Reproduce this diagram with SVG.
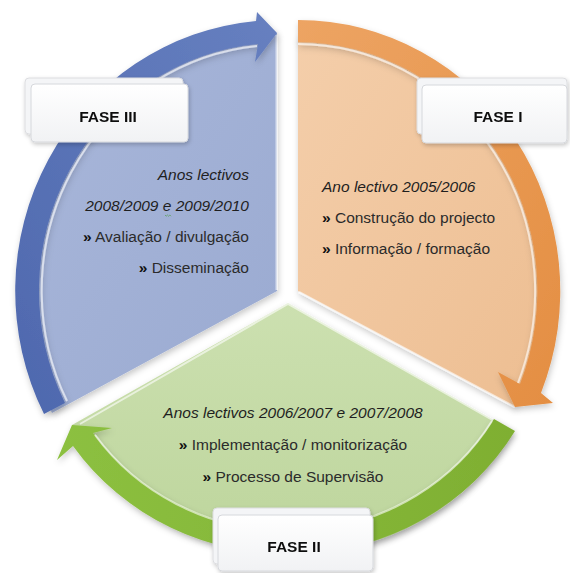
<svg xmlns="http://www.w3.org/2000/svg" width="570" height="573" viewBox="0 0 570 573">
<defs>
  <linearGradient id="gOrangeFill" x1="0" y1="0" x2="1" y2="1">
    <stop offset="0" stop-color="#F4CEAA"/><stop offset="1" stop-color="#EDBE92"/>
  </linearGradient>
  <linearGradient id="gBlueFill" x1="0" y1="0" x2="1" y2="1">
    <stop offset="0" stop-color="#A9B7DA"/><stop offset="1" stop-color="#9AAAD1"/>
  </linearGradient>
  <linearGradient id="gGreenFill" x1="0" y1="0" x2="0" y2="1">
    <stop offset="0" stop-color="#CCE0B0"/><stop offset="1" stop-color="#BDD59C"/>
  </linearGradient>
  <linearGradient id="gOrangeBand" x1="0" y1="0" x2="1" y2="1">
    <stop offset="0" stop-color="#EDA463"/><stop offset="1" stop-color="#E48E42"/>
  </linearGradient>
  <linearGradient id="gBlueBand" x1="0" y1="1" x2="1" y2="0">
    <stop offset="0" stop-color="#4E68AE"/><stop offset="1" stop-color="#6780C0"/>
  </linearGradient>
  <linearGradient id="gGreenBand" x1="0" y1="0" x2="1" y2="0">
    <stop offset="0" stop-color="#8CC040"/><stop offset="1" stop-color="#7FAF32"/>
  </linearGradient>
  <linearGradient id="gBox" x1="0" y1="0" x2="0" y2="1">
    <stop offset="0" stop-color="#FFFFFF"/><stop offset="1" stop-color="#F1F2F4"/>
  </linearGradient>
  <filter id="shadow" x="-10%" y="-10%" width="120%" height="120%">
    <feDropShadow dx="1" dy="3" stdDeviation="3" flood-color="#000" flood-opacity="0.22"/>
  </filter>
  <filter id="boxShadow" x="-10%" y="-20%" width="120%" height="150%">
    <feDropShadow dx="1" dy="2" stdDeviation="2" flood-color="#000" flood-opacity="0.22"/>
  </filter>
  <style>
    .body { font-family: "Liberation Sans", Arial, sans-serif; font-size: 15.5px; fill: #2b2b2b; }
    .it { font-style: italic; fill: #1f1f1f; }
    .raq { font-weight: bold; fill: #111; }
    .label { font-family: "Liberation Sans", Arial, sans-serif; font-size: 15.5px; font-weight: bold; fill: #111; text-anchor: middle; }
    .box { fill: url(#gBox); stroke: #D6D8DC; stroke-width: 1; }
    .boxBack { fill: #F4F5F7; stroke: #DCDDE0; stroke-width: 1; }
    .hl { fill: none; stroke: #FFFFFF; stroke-opacity: 0.6; stroke-width: 2; }
  </style>
</defs>
<rect width="570" height="573" fill="#FFFFFF"/>

<!-- Sector fills and texts -->
<g id="fase-i" filter="url(#shadow)">
  <path d="M298,291 L298,36 A250 257 0 0 1 521,386 L515,407 Z" fill="url(#gOrangeFill)"/>
  <path class="hl" d="M299,292 L515,407" stroke-width="2.5" stroke-opacity="0.8"/>
</g>
<g id="fase-iii" filter="url(#shadow)">
  <path d="M277,291 L52,413 A252 260 0 0 1 262,32 L277,33 Z" fill="url(#gBlueFill)"/>
  <path class="hl" d="M276.5,35 L276.5,290" stroke-opacity="0.8"/>
</g>
<g id="fase-ii" filter="url(#shadow)">
  <path d="M288,303 L513,431 A250 238 0 0 1 72,425 Z" fill="url(#gGreenFill)"/>
  <path class="hl" d="M80,424 L288,304 L510,430" stroke-opacity="0.5"/>
</g>

<!-- Connectors: cycle arrows -->
<g id="connectors" filter="url(#shadow)">
  <path d="M298,20 A262 271 0 0 1 541,393 L553,403 L515,407 L498,372 L520,384 A240 249 0 0 0 298,42 Z" fill="url(#gOrangeBand)"/>
  <path class="hl" d="M298,44 A238 247 0 0 1 518,383" stroke="#FFF6E0" stroke-opacity="0.8"/>
  <path d="M44,414 A264 271 0 0 1 256,21 L257,12 L277,33 L255,62 L258,44 A241 248 0 0 0 65,403 Z" fill="url(#gBlueBand)"/>
  <path class="hl" d="M67,401 A239 246 0 0 1 257,46" stroke-opacity="0.5"/>
  <path d="M515,431 A262 250 0 0 1 73,446 L57,460 L72,425 L112,428 L93,433 A238 226 0 0 0 494,419 Z" fill="url(#gGreenBand)"/>
  <path class="hl" d="M492,421 A236 224 0 0 1 95,435" stroke-opacity="0.55"/>
</g>

<!-- Texts -->
<g id="fase-iii-text" class="body" text-anchor="end">
  <text x="249" y="180" class="body it">Anos lectivos</text>
  <text x="249" y="211" class="body it">2008/2009 e 2009/2010</text>
  <text x="249" y="242" class="body"><tspan class="raq">»</tspan> Avaliação / divulgação</text>
  <text x="249" y="273" class="body"><tspan class="raq">»</tspan> Disseminação</text>
  <path d="M165,215 l1.2,1.2 l1.2,-1.2 l1.2,1.2 l1.2,-1.2 l1.2,1.2" fill="none" stroke="#5AA05A" stroke-width="0.8"/>
</g>
<g id="fase-i-text" class="body">
  <text x="322" y="192" class="body it">Ano lectivo 2005/2006</text>
  <text x="322" y="223" class="body"><tspan class="raq">»</tspan> Construção do projecto</text>
  <text x="322" y="254" class="body"><tspan class="raq">»</tspan> Informação / formação</text>
</g>
<g id="fase-ii-text" class="body" text-anchor="middle">
  <text x="293" y="418" class="body it">Anos lectivos 2006/2007 e 2007/2008</text>
  <text x="293" y="450" class="body"><tspan class="raq">»</tspan> Implementação / monitorização</text>
  <text x="293" y="482" class="body"><tspan class="raq">»</tspan> Processo de Supervisão</text>
</g>

<!-- Phase label boxes -->
<g id="label-fase-iii" filter="url(#boxShadow)">
  <rect class="boxBack" x="25" y="78" width="158" height="56" rx="4"/>
  <rect class="box" x="31" y="84" width="157" height="58" rx="4"/>
  <text class="label" x="108" y="122">FASE III</text>
</g>
<g id="label-fase-i" filter="url(#boxShadow)">
  <rect class="boxBack" x="417" y="78" width="150" height="56" rx="4"/>
  <rect class="box" x="422" y="85" width="145" height="58" rx="4"/>
  <text class="label" x="498" y="122">FASE I</text>
</g>
<g id="label-fase-ii" filter="url(#boxShadow)">
  <rect class="boxBack" x="213" y="508" width="157" height="56" rx="4"/>
  <rect class="box" x="218" y="515" width="155" height="56" rx="4"/>
  <text class="label" x="294" y="552">FASE II</text>
</g>
</svg>
